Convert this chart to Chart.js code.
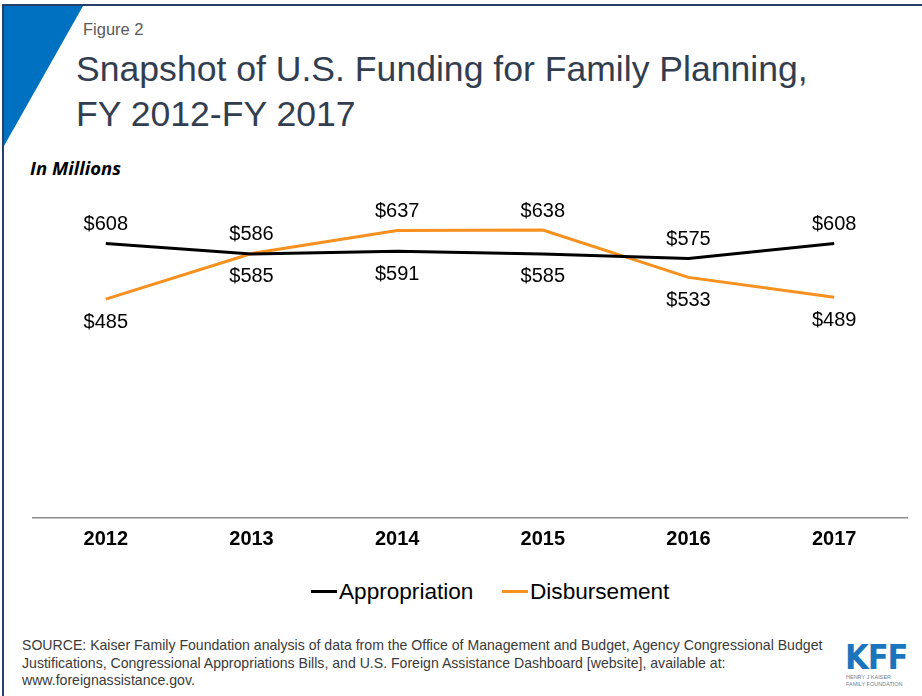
<!DOCTYPE html>
<html>
<head>
<meta charset="utf-8">
<script src="https://cdn.jsdelivr.net/npm/chart.js@4.4.0/dist/chart.umd.min.js"></script>
<style>
  body { margin: 0; background: #fff; font-family: "Liberation Sans", Arial, sans-serif; }
  #page { position: relative; width: 922px; height: 696px; overflow: hidden; background: #fff; }
  #frame { position: absolute; left: 2px; top: 4px; right: -10px; bottom: -10px;
           border-top: 2px solid #24406b; border-left: 2px solid #24406b; }
  #corner { position: absolute; left: 4px; top: 6px; width: 79px; height: 140px;
            background: #0070c0; clip-path: polygon(0 0, 100% 0, 0 100%); }
  #fig { position: absolute; left: 83px; top: 20px; font-size: 16.5px; color: #595959; }
  #title { position: absolute; left: 76px; top: 47px; font-size: 35.6px; line-height: 44.5px; color: #323e4f; }
  #units { position: absolute; left: 30px; top: 155px; font-family: "Open Sans", sans-serif;
           font-weight: bold; font-style: italic; font-size: 18.5px; color: #000; }
  #chartBox { position: absolute; left: 0; top: 150px; }
  .leg { position: absolute; top: 579px; font-size: 22.6px; color: #000; white-space: nowrap; }
  .leg i { display: inline-block; width: 26px; height: 3px; vertical-align: middle; margin-right: 2px; position: relative; top: -2px; }
  #source { position: absolute; left: 22px; top: 637px; font-size: 14.1px; line-height: 17.5px; color: #3a3a3a; white-space: nowrap; }
  #kff { position: absolute; left: 845px; top: 637px; font-family: "DejaVu Sans Condensed", "DejaVu Sans", sans-serif;
         font-size: 34px; font-weight: bold; color: #1b75bc; line-height: 40px; letter-spacing: -1px; }
  #kffsub { position: absolute; left: 846px; top: 674px; font-size: 5.5px; line-height: 7px; color: #6b7f99; }
</style>
</head>
<body>
<div id="page">
  <div id="frame"></div>
  <div id="corner"></div>
  <div id="fig">Figure 2</div>
  <div id="title">Snapshot of U.S. Funding for Family Planning,<br>FY 2012-FY 2017</div>
  <div id="units">In Millions</div>
  <div id="chartBox"><canvas id="chart" width="922" height="410"></canvas></div>
  <div class="leg" style="left:311px"><i style="background:#000"></i>Appropriation</div>
  <div class="leg" style="left:502px"><i style="background:#f7901e"></i>Disbursement</div>
  <div id="source">SOURCE: Kaiser Family Foundation analysis of data from the Office of Management and Budget, Agency Congressional Budget<br>Justifications, Congressional Appropriations Bills, and U.S. Foreign Assistance Dashboard [website], available at:<br>www.foreignassistance.gov.</div>
  <div id="kff">KFF</div>
  <div id="kffsub">HENRY J KAISER<br>FAMILY FOUNDATION</div>
</div>
<script>
// data (US$ millions)
const years = ['2012', '2013', '2014', '2015', '2016', '2017'];
const appropriation = [608, 585, 591, 585, 575, 608];
const disbursement = [485, 586, 637, 638, 533, 489];
// where each value label sits relative to its point
const appropriationLabelPos = ['above', 'below', 'below', 'below', 'above', 'above'];
const disbursementLabelPos = ['below', 'above', 'above', 'above', 'below', 'below'];

const labelPos = [appropriationLabelPos, disbursementLabelPos];

// Value labels drawn next to each point
const valueLabels = {
  id: 'valueLabels',
  afterDatasetsDraw(chart) {
    const ctx = chart.ctx;
    ctx.save();
    ctx.font = '20px "Liberation Sans", Arial, sans-serif';
    ctx.fillStyle = '#000';
    ctx.textAlign = 'center';
    ctx.textBaseline = 'middle';
    chart.data.datasets.forEach((ds, i) => {
      const meta = chart.getDatasetMeta(i);
      meta.data.forEach((pt, j) => {
        const off = labelPos[i][j] === 'above' ? -19 : 23;
        ctx.fillText('$' + ds.data[j], pt.x, pt.y + off);
      });
    });
    ctx.restore();
  }
};

new Chart(document.getElementById('chart').getContext('2d'), {
  type: 'line',
  data: {
    labels: years,
    datasets: [
      {
        label: 'Appropriation',
        data: appropriation,
        borderColor: '#000',
        backgroundColor: '#000',
        borderWidth: 3,
        pointRadius: 0,
        tension: 0
      },
      {
        label: 'Disbursement',
        data: disbursement,
        borderColor: '#f7901e',
        backgroundColor: '#f7901e',
        borderWidth: 3,
        pointRadius: 0,
        tension: 0
      }
    ]
  },
  options: {
    responsive: false,
    animation: false,
    layout: { padding: { left: 33, right: 15, top: 52, bottom: 0 } },
    plugins: {
      legend: { display: false },
      tooltip: { enabled: false }
    },
    scales: {
      x: {
        offset: true,
        grid: { display: false, drawTicks: false },
        border: { display: true, color: '#8c8c8c', width: 1.5 },
        ticks: {
          padding: 9,
          color: '#000',
          font: { family: '"Liberation Sans", Arial, sans-serif', size: 20, weight: 'bold' }
        }
      },
      y: {
        display: false,
        min: 0,
        max: 700
      }
    }
  },
  plugins: [valueLabels]
});
</script>
</body>
</html>
